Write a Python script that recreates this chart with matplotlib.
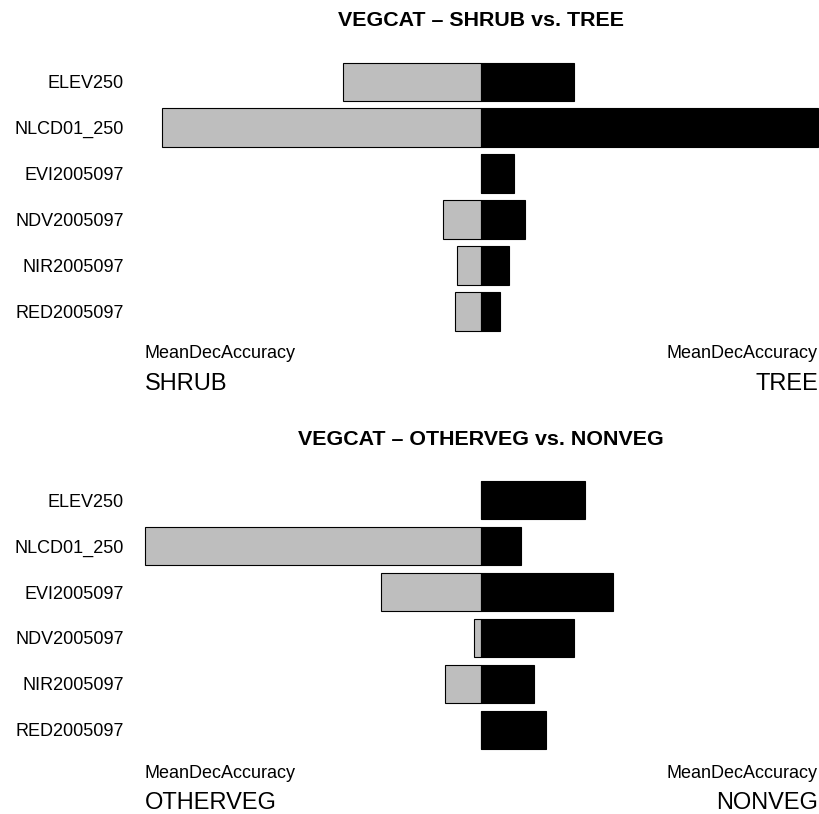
import numpy as np
import matplotlib
matplotlib.use("Agg")
import matplotlib.pyplot as plt

plt.rcParams['font.family'] = ['Liberation Sans', 'DejaVu Sans']

variables = ["ELEV250", "NLCD01_250", "EVI2005097", "NDV2005097", "NIR2005097", "RED2005097"]

# panel 1: SHRUB vs. TREE (mean decrease in accuracy)
shrub = [13.8, 31.9, 0.0, 3.8, 2.4, 2.6]
tree = [9.3, 33.7, 3.3, 4.4, 2.8, 1.9]

# panel 2: OTHERVEG vs. NONVEG
otherveg = [0.0, 33.6, 10.0, 0.7, 3.6, 0.0]
nonveg = [10.4, 4.0, 13.1, 9.3, 5.3, 6.5]

panels = [
    ("VEGCAT \u2013 SHRUB vs. TREE", "SHRUB", "TREE", shrub, tree),
    ("VEGCAT \u2013 OTHERVEG vs. NONVEG", "OTHERVEG", "NONVEG", otherveg, nonveg),
]

W, H = 819, 814
fig = plt.figure(figsize=(W / 100, H / 100), dpi=100, facecolor='white')

# pixel layout (top of bar block, bottom of bar block, title / label baselines)
layout = [
    dict(top=62.5, bottom=330.5, title=26.5, measure=358, side=390.5),
    dict(top=481.0, bottom=749.0, title=445.5, measure=778, side=809.0),
]

x_left, x_right = 144.5, 818.0

def fy(px):
    return 1 - px / H

for (title, left_name, right_name, left_vals, right_vals), lay in zip(panels, layout):
    ax = fig.add_axes([x_left / W, fy(lay['bottom']), (x_right - x_left) / W,
                       (lay['bottom'] - lay['top']) / H])
    pos = np.arange(len(variables)) * 1.2
    left_vals = np.array(left_vals)
    right_vals = np.array(right_vals)
    m = max(left_vals.max(), right_vals.max())

    ax.barh(pos, -left_vals, height=1.0, color='#BEBEBE', edgecolor='black',
            linewidth=0.8, clip_on=False)
    ax.barh(pos, right_vals, height=1.0, color='black', edgecolor='black',
            linewidth=0.8, clip_on=False)

    ax.set_xlim(-m, m)
    ax.set_ylim(pos[-1] + 0.5, -0.5)
    ax.set_yticks(pos)
    ax.set_yticklabels(variables, fontsize=13)
    ax.tick_params(axis='y', length=0, pad=15)
    ax.set_xticks([])
    for s in ax.spines.values():
        s.set_visible(False)
    ax.patch.set_visible(False)

    cx = (x_left + x_right) / 2 / W
    fig.text(cx, fy(lay['title']), title, ha='center', va='baseline',
             fontsize=15.4, fontweight='bold')
    fig.text(x_left / W, fy(lay['measure']), "MeanDecAccuracy", ha='left', va='baseline', fontsize=13)
    fig.text(x_right / W, fy(lay['measure']), "MeanDecAccuracy", ha='right', va='baseline', fontsize=13)
    fig.text(x_left / W, fy(lay['side']), left_name, ha='left', va='baseline', fontsize=17)
    fig.text(x_right / W, fy(lay['side']), right_name, ha='right', va='baseline', fontsize=17)

fig.savefig("out.png", dpi=100, facecolor='white')
